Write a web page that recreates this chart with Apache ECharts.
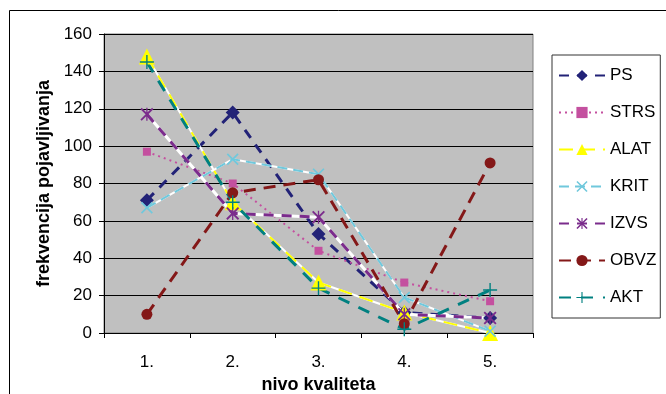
<!DOCTYPE html>
<html lang="sr">
<head>
    <meta charset="UTF-8">
    <title>nivo kvaliteta</title>
    <script src="https://cdn.jsdelivr.net/npm/echarts@6/dist/echarts.min.js"></script>
    <style>
        html, body { margin: 0; padding: 0; background: #fff; }
        #chart-container { width: 666px; height: 394px; }
    </style>
</head>
<body>
    <div id="chart-container"></div>
    <script>
        var categories = ['1.', '2.', '3.', '4.', '5.'];
        var yTicks = [0, 20, 40, 60, 80, 100, 120, 140, 160];

        var ps   = [71, 118, 53, 11, 8];
        var strs = [97, 80, 44, 27, 17];
        var alat = [148, 70, 27, 11, 0];
        var krit = [67, 93, 85, 19, 1];
        var izvs = [117, 64, 62, 10, 8];
        var obvz = [10, 75, 82, 5, 91];
        var akt  = [145, 70, 24, 2, 23];

        var font = "'Liberation Sans', Arial, sans-serif";

        // marker shapes (thin strokes drawn as polygons)
        var xShape = 'path://M0,1L1,0L10,9L9,10Z M9,0L10,1L1,10L0,9Z';
        var starShape = 'path://M0,1L1,0L10,9L9,10Z M9,0L10,1L1,10L0,9Z M4.5,0H5.5V10H4.5Z';
        var plusShape = 'path://M4.5,0H5.5V10H4.5Z M0,4.5H10V5.5H0Z';

        function under(data, w) {
            return {
                name: '', type: 'line', data: data, symbol: 'none', silent: true,
                lineStyle: { color: '#ffffff', width: w, type: 'solid' },
                animation: false
            };
        }

        function line(name, data, color, width, dash, symbol, size) {
            return {
                name: name, type: 'line', data: data,
                symbol: symbol, symbolSize: size, showSymbol: true,
                itemStyle: { color: color },
                lineStyle: { color: color, width: width, type: dash },
                animation: false
            };
        }

        var myChart = echarts.init(document.getElementById('chart-container'));

        var option = {
            backgroundColor: '#ffffff',
            textStyle: { fontFamily: font },
            graphic: [{
                type: 'rect',
                shape: { x: 9.5, y: 10.5, width: 700, height: 420 },
                style: { fill: 'none', stroke: '#000', lineWidth: 1 },
                z: -1
            }],
            grid: {
                left: 104, top: 34, right: 133, bottom: 61,
                outerBoundsMode: 'none',
                show: true, backgroundColor: '#C0C0C0', borderColor: '#808080', borderWidth: 1
            },
            legend: {
                orient: 'vertical',
                left: 552, top: 55,
                data: ['PS', 'STRS', 'ALAT', 'KRIT', 'IZVS', 'OBVZ', 'AKT'],
                itemWidth: 46, itemHeight: 14, itemGap: 20,
                padding: [12, 4, 12, 6],
                borderColor: '#333', borderWidth: 1,
                backgroundColor: '#fff',
                textStyle: { fontSize: 17, color: '#000', fontFamily: font }
            },
            xAxis: {
                type: 'category',
                data: categories,
                boundaryGap: true,
                name: 'nivo kvaliteta',
                nameLocation: 'middle',
                nameGap: 41,
                nameTextStyle: { fontSize: 18, fontWeight: 'bold', color: '#000' },
                axisLine: { lineStyle: { color: '#000', width: 1 } },
                axisTick: { show: true, length: 5, lineStyle: { color: '#000' } },
                axisLabel: { fontSize: 17, color: '#000', margin: 21 }
            },
            yAxis: {
                type: 'value',
                min: yTicks[0], max: yTicks[yTicks.length - 1], interval: 20,
                name: 'frekvencija pojavljivanja',
                nameLocation: 'middle',
                nameGap: 50,
                nameTextStyle: { fontSize: 18, fontWeight: 'bold', color: '#000' },
                axisLine: { show: true, lineStyle: { color: '#000', width: 1 } },
                axisTick: { show: true, length: 5, lineStyle: { color: '#000' } },
                axisLabel: { fontSize: 17, color: '#000', margin: 12 },
                splitLine: { lineStyle: { color: '#000', width: 1 } }
            },
            series: [
                line('PS', ps, '#222277', 3, [10, 8], 'diamond', 14),
                line('STRS', strs, '#C4509F', 2, [2, 4], 'rect', 8),
                under(alat, 2),
                line('ALAT', alat, '#FFFF00', 2, [14, 8], 'triangle', 16),
                under(krit, 2),
                line('KRIT', krit, '#70C8DC', 2, [10, 6], xShape, 12),
                under(izvs, 3),
                line('IZVS', izvs, '#7B2C8C', 3, [10, 8], starShape, 13),
                line('OBVZ', obvz, '#841818', 3, [12, 8], 'circle', 11),
                line('AKT', akt, '#008080', 3, [12, 10], plusShape, 14)
            ]
        };

        myChart.setOption(option);
    </script>
</body>
</html>
